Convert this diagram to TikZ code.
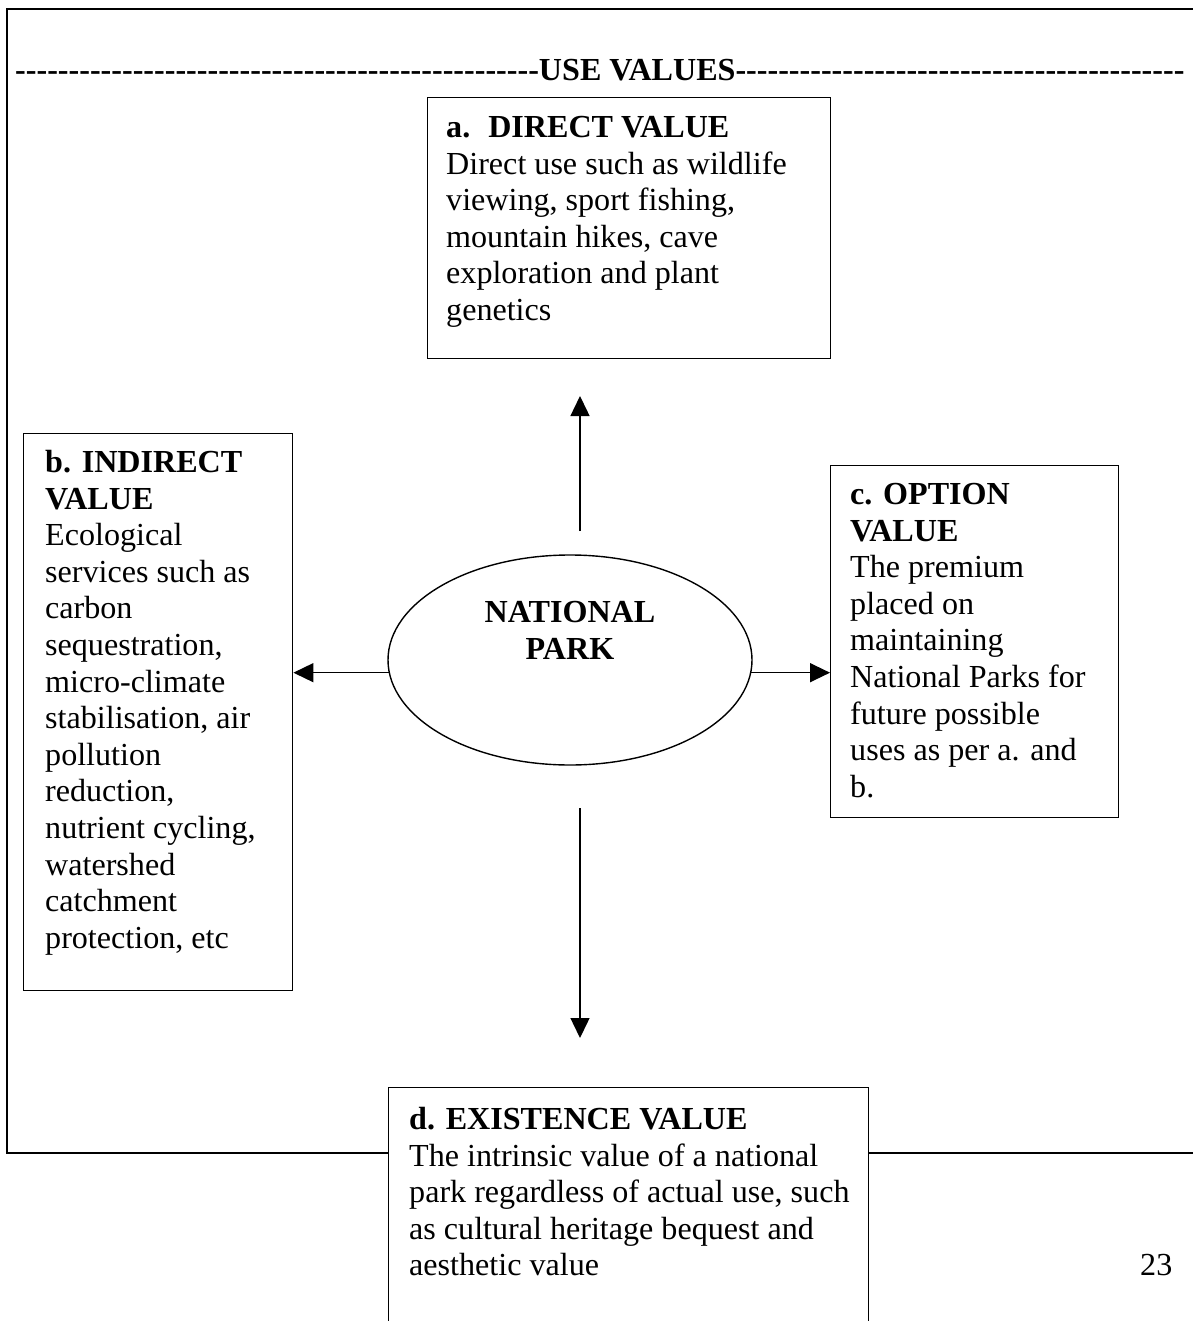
\documentclass[tikz,border=0pt]{standalone}
\usepackage{fontspec}
\setmainfont{Liberation Serif}[Ligatures=TeXOff]
\usetikzlibrary{arrows.meta,shapes.geometric,calc}
\newcommand{\fsz}{\fontsize{32.1pt}{36.6pt}\selectfont}
\begin{document}
\begin{tikzpicture}[x=1pt,y=-1pt,
  box/.style={draw, line width=1.4pt, inner sep=0pt, anchor=north west},
  txt/.style={inner sep=0pt, anchor=north west, align=left, font=\fsz},
  arr/.style={line width=1.4pt, -{Triangle[length=20pt,width=19pt]}},
  frameline/.style={line width=2.6pt}]
\useasboundingbox (0,0) rectangle (1192,1321);
\fill[white] (0,0) rectangle (1192,1321);
% boxes
\node[box, minimum width=403pt, minimum height=261pt] (a) at (427,97) {};
\node[box, minimum width=269pt, minimum height=557pt] (b) at (23,433) {};
\node[box, minimum width=288pt, minimum height=352pt] (c) at (830,465) {};
\node[box, minimum width=480pt, minimum height=300pt] (d) at (388,1087) {};
\node[draw, ellipse, line width=1.4pt, minimum width=364pt, minimum height=210pt, inner sep=0pt] (np) at (570,660) {};
% frame
\coordinate (fb) at (0,1153);
\draw[frameline] (1200,9) -- (7,9) -- (7,1153) -- (d.west |- fb);
\draw[frameline] (d.east |- fb) -- (1200,1153);
% heading
\node[inner sep=0pt, anchor=base west, font=\fsz\bfseries] (head) at (15,81)
 {-------------------------------------------------USE VALUES------------------------------------------};
% texts
\node[txt] (ta) at (446,116) {\textbf{a.\hspace{18pt}DIRECT VALUE}\\Direct use such as wildlife\\viewing, sport fishing,\\mountain hikes, cave\\exploration and plant\\genetics};
\node[txt] (tb) at (45,450) {\textbf{b. INDIRECT}\\\textbf{VALUE}\\Ecological\\services such as\\carbon\\sequestration,\\micro-climate\\stabilisation, air\\pollution\\reduction,\\nutrient cycling,\\watershed\\catchment\\protection, etc};
\node[txt] (tc) at (850,483) {\textbf{c. OPTION}\\\textbf{VALUE}\\The premium\\placed on\\maintaining\\National Parks for\\future possible\\uses as per a. and\\b.};
\node[txt] (td) at (409,1107) {\textbf{d. EXISTENCE VALUE}\\The intrinsic value of a national\\park regardless of actual use, such\\as cultural heritage bequest and\\aesthetic value};
\node[inner sep=0pt, anchor=north, align=center, font=\fsz\bfseries] (tnp) at (570,601) {NATIONAL\\PARK};
\node[inner sep=0pt, anchor=base west, font=\fsz] (pg) at (1140,1275) {23};
% arrows
\coordinate (upS) at (580,531);
\coordinate (upE) at (580,396);
\coordinate (dnS) at (580,808);
\coordinate (dnE) at (580,1038);
\draw[arr] (upS) -- (upE);
\draw[arr] (dnS) -- (dnE);
\draw[arr] (np.184.4) -- (np.184.4 -| b.east);
\draw[arr] (np.-4.4) -- (np.-4.4 -| c.west);
\end{tikzpicture}
\end{document}
